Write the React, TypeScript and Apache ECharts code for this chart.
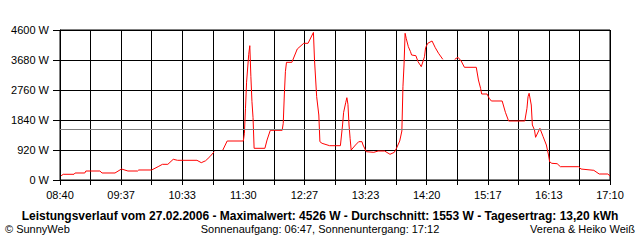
import React, { useEffect, useRef } from "react";
import * as echarts from "echarts";

// Time axis runs from 08:40 to 17:10; one grid step = 1700 s (28 min 20 s)
const startTime = "08:40";
const xTickLabels = ["08:40", "09:37", "10:33", "11:30", "12:27", "13:23", "14:20", "15:17", "16:13", "17:10"];
const yMax = 4600;
const yStep = 920;
const averageWatts = 1553;

const times = [
  "08:41", "08:43", "08:53", "08:54", "09:03", "09:04", "09:17", "09:19", "09:31", "09:37",
  "09:43", "09:52", "09:53", "10:05", "10:11", "10:15", "10:20", "10:25", "10:29", "10:47",
  "10:51", "10:55", "10:59", "11:03", "11:07", "11:11", "11:15", "11:30", "11:31", "11:32",
  "11:33", "11:35", "11:36", "11:37", "11:38", "11:39", "11:40", "11:50", "11:52", "11:55",
  "12:06", "12:07", "12:08", "12:09", "12:10", "12:15", "12:20", "12:26", "12:30", "12:35",
  "12:36", "12:38", "12:40", "12:41", "12:43", "12:50", "13:00", "13:02", "13:03", "13:05",
  "13:06", "13:07", "13:08", "13:09", "13:10", "13:14", "13:17", "13:20", "13:21", "13:24",
  "13:31", "13:35", "13:41", "13:46", "13:50", "13:52", "13:55", "13:57", "13:58", "13:59",
  "14:00", "14:01", "14:03", "14:05", "14:06", "14:10", "14:12", "14:15", "14:18", "14:19",
  "14:21", "14:25", "14:28", "14:31", "14:35", "14:40", "14:46", "14:49", "14:52", "14:55",
  "15:06", "15:08", "15:10", "15:11", "15:16", "15:18", "15:20", "15:30", "15:33", "15:36",
  "15:51", "15:53", "15:54", "15:55", "15:57", "15:58", "16:00", "16:01", "16:05", "16:08",
  "16:11", "16:13", "16:14", "16:16", "16:21", "16:24", "16:41", "16:43", "16:55", "17:00",
  "17:08", "17:10",
];

const watts: (number | null)[] = [
  130, 175, 175, 215, 215, 276, 276, 215, 215, 337,
  276, 276, 307, 307, 410, 481, 481, 635, 604, 604,
  531, 590, 715, 868, null, 920, 1196, 1196, 1432, 2200,
  3000, 3855, 4119, 3168, 2401, 1911, 972, 972, 1227, 1524,
  1524, 1739, 2607, 3321, 3609, 3609, 4017, 4192, 4192, 4526,
  3680, 2555, 1993, 1175, 1125, 1052, 1052, 1687, 2076, 2383,
  2524, 2321, 1687, 1279, 920, 1073, 1175, 1175, 1073, 868,
  849, 889, 889, 788, 849, 972, 1196, 1503, 2861, 3527,
  4499, 4346, 4088, 3935, 3833, 3812, 3628, 3475, 3781, 4057,
  4192, 4263, 4057, 3886, 3700, null, 3700, 3763, 3649, 3456,
  3456, 3067, 2812, 2637, 2637, 2505, 2423, 2423, 2076, 1809,
  1809, 2199, 2555, 2659, 2300, 1687, 1533, 1309, 1585, 1328,
  1073, 767, 561, 512, 500, 408, 408, 337, 297, 184,
  184, 123,
];

const titleText =
  "Leistungsverlauf vom 27.02.2006 - Maximalwert: 4526 W - Durchschnitt: 1553 W - Tagesertrag: 13,20 kWh";
const footerLeft = "© SunnyWeb";
const footerCenter = "Sonnenaufgang: 06:47, Sonnenuntergang: 17:12";
const footerRight = "Verena & Heiko Weiß";

const toMin = (t: string) => {
  const [h, m] = t.split(":").map(Number);
  return h * 60 + m;
};
const stepSec = 1700;
const toSec = (t: string) => (toMin(t) - toMin(startTime)) * 60;

const FONT = '"Liberation Sans", Arial, sans-serif';

export default function App() {
  const ref = useRef<HTMLDivElement>(null);
  useEffect(() => {
    document.body.style.margin = "0";
    if (!ref.current) return;
    const chart = echarts.init(ref.current, undefined, { renderer: "svg" });
    const data = times.map((t, i) => [toSec(t), watts[i] === null ? "-" : watts[i]]);
    const maxSec = (xTickLabels.length - 1) * 2 * stepSec;
    chart.setOption({
      animation: false,
      backgroundColor: "#ffffff",
      grid: { left: 60, right: 30, top: 30, bottom: 60, show: true, borderColor: "#000", borderWidth: 1, backgroundColor: "transparent" },
      xAxis: {
        type: "value",
        min: 0,
        max: maxSec,
        interval: stepSec,
        axisLine: { show: true, lineStyle: { color: "#000", width: 1 } },
        axisTick: { show: true, length: 5, lineStyle: { color: "#000", width: 1 } },
        splitLine: { show: true, lineStyle: { color: "#000", width: 1 } },
        axisLabel: {
          color: "#000",
          fontFamily: FONT,
          fontSize: 11,
          margin: 9,
          showMinLabel: true,
          showMaxLabel: true,
          formatter: (v: number) => {
            const k = Math.round(v / stepSec);
            return k % 2 === 0 ? xTickLabels[k / 2] ?? "" : "";
          },
        },
      },
      yAxis: {
        type: "value",
        min: 0,
        max: yMax,
        interval: yStep,
        axisLine: { show: true, lineStyle: { color: "#000", width: 1 } },
        axisTick: { show: true, length: 7, lineStyle: { color: "#000", width: 1 } },
        splitLine: { show: true, lineStyle: { color: "#000", width: 1 } },
        axisLabel: {
          color: "#000",
          fontFamily: FONT,
          fontSize: 11,
          margin: 11,
          formatter: (v: number) => `${Math.round(v)} W`,
        },
      },
      series: [
        {
          type: "line",
          data,
          showSymbol: false,
          connectNulls: false,
          lineStyle: { color: "#ff0000", width: 1 },
          markLine: {
            silent: true,
            symbol: "none",
            label: { show: false },
            lineStyle: { color: "#808080", type: "solid", width: 1 },
            data: [{ yAxis: averageWatts }],
          },
          z: 3,
        },
      ],
      graphic: [
        {
          type: "text",
          x: 320,
          y: 216,
          style: { text: titleText, font: `bold 12px ${FONT}`, fill: "#000", align: "center", verticalAlign: "middle" },
        },
        {
          type: "text",
          x: 5,
          y: 229,
          style: { text: footerLeft, font: `11px ${FONT}`, fill: "#000", align: "left", verticalAlign: "middle" },
        },
        {
          type: "text",
          x: 320,
          y: 229,
          style: { text: footerCenter, font: `11px ${FONT}`, fill: "#000", align: "center", verticalAlign: "middle" },
        },
        {
          type: "text",
          x: 635,
          y: 229,
          style: { text: footerRight, font: `11px ${FONT}`, fill: "#000", align: "right", verticalAlign: "middle" },
        },
      ],
    });
    return () => chart.dispose();
  }, []);
  return <div ref={ref} style={{ width: 640, height: 240 }} />;
}
